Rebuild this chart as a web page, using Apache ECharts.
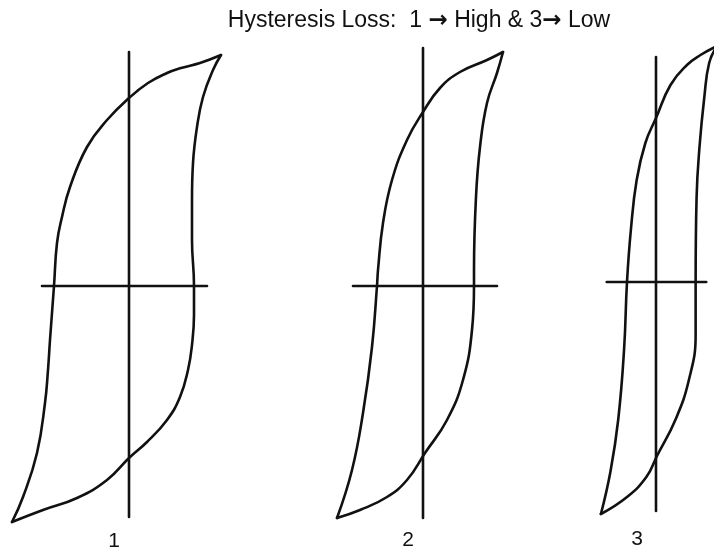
<!DOCTYPE html>
<html>
<head>
<meta charset="utf-8">
<script src="https://cdn.jsdelivr.net/npm/echarts@6/dist/echarts.min.js"></script>
<style>
  html, body { margin: 0; padding: 0; background: #fff; }
  #chart { width: 714px; height: 550px; }
</style>
</head>
<body>
<div id="chart"></div>
<script>
// ---- Data (H, B in arbitrary units) ----
const titleParts = ['Hysteresis Loss:  1 ', '\u2192', ' High & 3', '\u2192', ' Low'];
const loopLabels = ['1', '2', '3'];

// Loop 1 (high loss)
const loop1Upper = [[9.2,23.1],[7.1,22.3],[5.2,21.8],[3.8,21.3],[1.9,20.3],[0,18.8],[-2.2,16.6],[-4.2,13.9],[-5.9,9.9],[-6.7,6.9],[-7.2,4.3],[-7.5,0],[-7.9,-5.4],[-8.1,-8.4],[-8.4,-11.7],[-9.2,-16.7],[-10.6,-21.1],[-11.7,-23.6]];
const loop1Lower = [[-11.7,-23.6],[-8.6,-22.4],[-5.2,-21.2],[-2.2,-19.4],[0,-17.2],[1.8,-15.6],[3.8,-13.4],[5.1,-11.1],[5.9,-8.4],[6.3,-5.9],[6.5,-2.9],[6.5,0],[6.3,4.6],[6.3,8.6],[6.4,12.3],[6.8,15.9],[7.4,18.9],[8.4,21.6],[9.2,23.1]];

// Loop 2
const loop2Upper = [[8.0,23.4],[6.4,22.6],[3.7,21.4],[1.7,19.8],[0,17.4],[-1.6,14.6],[-3.1,10.6],[-4.0,6.3],[-4.5,1.6],[-4.6,0],[-5.1,-6.1],[-6.0,-12.7],[-7.1,-18.4],[-8.6,-23.2]];
const loop2Lower = [[-8.6,-23.2],[-6.3,-22.4],[-3.6,-21.1],[-1.6,-19.4],[0.2,-16.7],[2.4,-13.4],[4.0,-9.4],[4.9,-4.4],[5.1,0],[5.1,1.6],[5.3,8.9],[5.7,13.9],[6.4,18.3],[7.4,21.3],[8.0,23.4]];

// Loop 3 (low loss)
const loop3Upper = [[6.3,23.6],[4.6,22.7],[3.2,21.7],[1.5,19.7],[0,16.4],[-1.1,13.9],[-2.0,10.2],[-2.6,5.2],[-3.0,0],[-3.3,-6.7],[-3.9,-13.7],[-4.7,-18.9],[-5.7,-23.2]];
const loop3Lower = [[-5.7,-23.2],[-3.0,-21.5],[-1.0,-19.5],[0.1,-17.4],[2.0,-13.8],[3.4,-9.8],[4.1,-5.3],[4.1,0],[4.2,8.5],[4.5,13.5],[5.0,18.5],[5.5,21.9],[6.3,23.6]];

// Extents of the drawn H and B axis lines for each loop
const hAxisLines = [[-8.7, 7.8], [-7.0, 7.4], [-5.1, 5.2]];
const bAxisLines = [[-23.1, 23.4], [-23.2, 23.8], [-22.9, 22.5]];

// ---- Layout (plot windows, 10 px per unit) ----
const windows = [
  { x: [-12.5, 9.5], y: [-24, 24], grid: { left: 4,   top: 46, width: 220, height: 480 } },
  { x: [-9.0, 8.5],  y: [-24, 24], grid: { left: 333, top: 46, width: 175, height: 480 } },
  { x: [-6.0, 6.0],  y: [-24, 24], grid: { left: 598, top: 42, width: 120, height: 480 } }
];
const labelPos = [[114, 541], [408, 540], [637, 539]];
const ink = '#111';
const font = '"Liberation Sans", Arial, sans-serif';

const loops = [[loop1Upper, loop1Lower], [loop2Upper, loop2Lower], [loop3Upper, loop3Lower]];

const hiddenAxis = {
  type: 'value',
  axisLine: { show: false },
  axisTick: { show: false },
  axisLabel: { show: false },
  splitLine: { show: false }
};

const xAxes = [], yAxes = [], series = [];
const lineBase = (i, data, smooth) => ({
  type: 'line',
  xAxisIndex: i,
  yAxisIndex: i,
  data: data,
  showSymbol: false,
  symbol: 'none',
  smooth: smooth,
  clip: false,
  lineStyle: { color: ink, width: 2.6, cap: 'round', join: 'round' },
  silent: true
});
windows.forEach((w, i) => {
  xAxes.push(Object.assign({}, hiddenAxis, { gridIndex: i, min: w.x[0], max: w.x[1] }));
  yAxes.push(Object.assign({}, hiddenAxis, { gridIndex: i, min: w.y[0], max: w.y[1] }));
  // axis cross
  series.push(lineBase(i, [[hAxisLines[i][0], 0], [hAxisLines[i][1], 0]], false));
  series.push(lineBase(i, [[0, bAxisLines[i][0]], [0, bAxisLines[i][1]]], false));
  loops[i].forEach(branch => series.push(lineBase(i, branch, 0.45)));
});

const graphics = [{
  type: 'text',
  x: 419, y: 21,
  style: {
    text: '{t|' + titleParts[0] + '}{a|' + titleParts[1] + '}{t|' + titleParts[2] + '}{a|' + titleParts[3] + '}{t|' + titleParts[4] + '}',
    textAlign: 'center',
    textVerticalAlign: 'middle',
    rich: {
      t: { fontFamily: font, fontSize: 23, fill: ink, color: ink },
      a: { fontFamily: '"DejaVu Sans", sans-serif', fontSize: 23, fontWeight: 'bold', fill: ink, color: ink }
    }
  }
}];
loopLabels.forEach((t, i) => {
  graphics.push({
    type: 'text',
    x: labelPos[i][0], y: labelPos[i][1],
    style: {
      text: t,
      font: '21px ' + font,
      fill: ink,
      textAlign: 'center',
      textVerticalAlign: 'middle'
    }
  });
});

const chart = echarts.init(document.getElementById('chart'), null, { renderer: 'canvas' });
chart.setOption({
  animation: false,
  backgroundColor: '#fff',
  grid: windows.map(w => Object.assign({ containLabel: false }, w.grid)),
  xAxis: xAxes,
  yAxis: yAxes,
  series: series,
  graphic: graphics
});
</script>
</body>
</html>
